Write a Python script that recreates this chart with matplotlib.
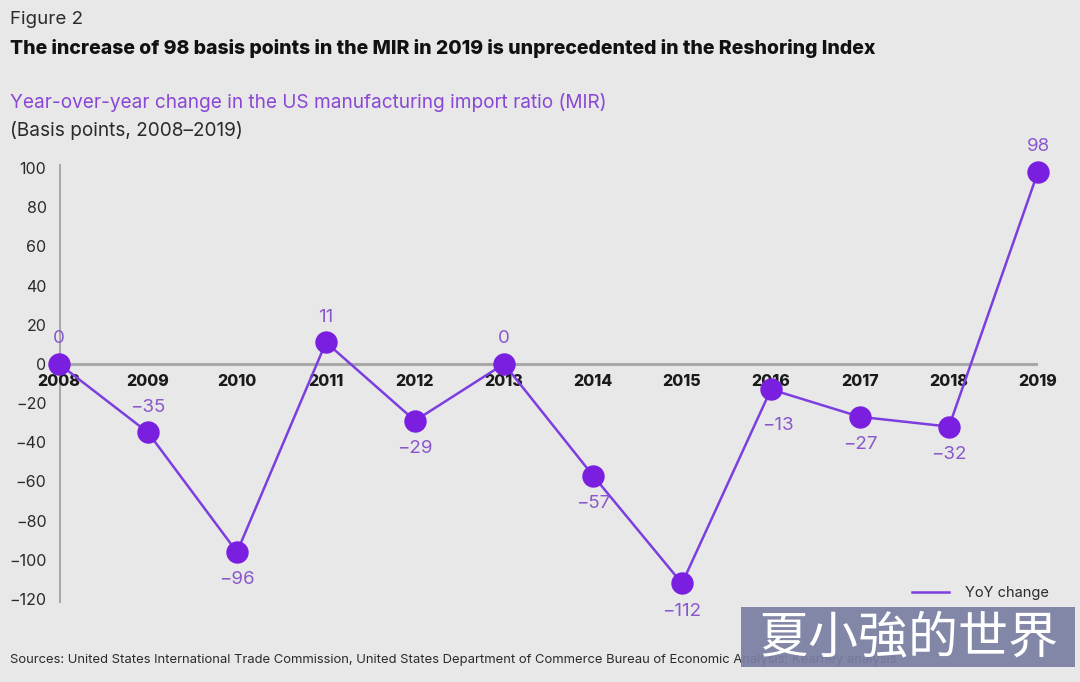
import matplotlib.pyplot as plt
from matplotlib.patches import Rectangle

years  = [2008, 2009, 2010, 2011, 2012, 2013, 2014, 2015, 2016, 2017, 2018, 2019]
yoy    = [0, -35, -96, 11, -29, 0, -57, -112, -13, -27, -32, 98]
labels = ['0', '\u221235', '\u221296', '11', '\u221229', '0', '\u221257', '\u2212112', '\u221213', '\u221227', '\u221232', '98']
yticks = list(range(-120, 101, 20))

bg      = '#e8e8e8'
purple  = '#7a1fe0'
lineclr = '#7d3ee0'
lblclr  = '#8a58cc'
dark    = '#2b2b2b'

plt.rcParams['font.family'] = ['Inter', 'DejaVu Sans']

W, H = 1080, 682
fig = plt.figure(figsize=(W/100, H/100), dpi=100, facecolor=bg)

# axes placed in pixels: 2008 at x=59, 2019 at x=1038; ylim -122..102 -> y 603..164
ax = fig.add_axes([59/W, 79/H, (1038-59)/W, 439/H])
ax.set_facecolor(bg)
ax.set_xlim(2008, 2019)
ax.set_ylim(-122, 102)
for s in ax.spines.values():
    s.set_visible(False)

ax.axhline(0, color='#a8a8a8', lw=2.2, zorder=1)
ax.axvline(2008, color='#a8a8a8', lw=2.2, zorder=1)

ax.set_xticks([])
ax.set_yticks(yticks)
ax.set_yticklabels([('\u2212' + str(-t)) if t < 0 else str(t) for t in yticks])
ax.tick_params(axis='y', length=0, pad=9, labelsize=11.5, labelcolor=dark)

for x in years:
    ax.annotate(str(x), (x, 0), xytext=(0, -13), textcoords='offset points',
                ha='center', va='center', fontsize=11.5, fontweight='heavy',
                color='#1a1a1a', zorder=2)

ax.plot(years, yoy, color=lineclr, lw=1.8, zorder=3, label='YoY change')
ax.scatter(years, yoy, s=260, color=purple, zorder=4, clip_on=False, linewidths=0)

# label side: +1 above, -1 below
side = [1, 1, -1, 1, -1, 1, -1, -1, -1, -1, -1, 1]
for x, v, t, sd in zip(years, yoy, labels, side):
    dy = 18 if sd > 0 else -20
    dx = 0
    if x == 2016:
        dx, dy = 5, -26
    ax.annotate(t, (x, v), xytext=(dx, dy), textcoords='offset points',
                ha='center', va='center', fontsize=13.5, color=lblclr, zorder=5)

fig.legend(loc='center right', bbox_to_anchor=(1056/W, 1-593/H), frameon=False,
           fontsize=10.5, handlelength=2.5, handletextpad=1.1, borderpad=0,
           labelcolor=dark)

fig.text(10/W, 1-20/H, 'Figure 2', fontsize=13.5, color=dark, va='center')
fig.text(10/W, 1-48/H, 'The increase of 98 basis points in the MIR in 2019 is unprecedented in the Reshoring Index',
         fontsize=14, fontweight='heavy', color='#111111', va='center')
fig.text(10/W, 1-103/H, 'Year-over-year change in the US manufacturing import ratio (MIR)',
         fontsize=13.7, color='#8a46d6', va='center')
fig.text(10/W, 1-130/H, '(Basis points, 2008\u20132019)', fontsize=13.7, color=dark, va='center')
fig.text(10/W, 1-660/H, 'Sources: United States International Trade Commission, United States Department of Commerce Bureau of Economic Analysis; Kearney analysis',
         fontsize=9.4, color=dark, va='center')

# watermark overlay
fig.add_artist(Rectangle((741/W, 1-667/H), (1075-741)/W, 60/H, transform=fig.transFigure,
                         facecolor='#7b7fa2', edgecolor='none', alpha=0.92, zorder=10))
fig.text(908/W, 1-638/H, '夏小強的世界', fontsize=36, color='white', ha='center', va='center',
         family=['Noto Sans CJK TC', 'DejaVu Sans'], zorder=11)

fig.savefig('out.png', dpi=100, facecolor=bg)
